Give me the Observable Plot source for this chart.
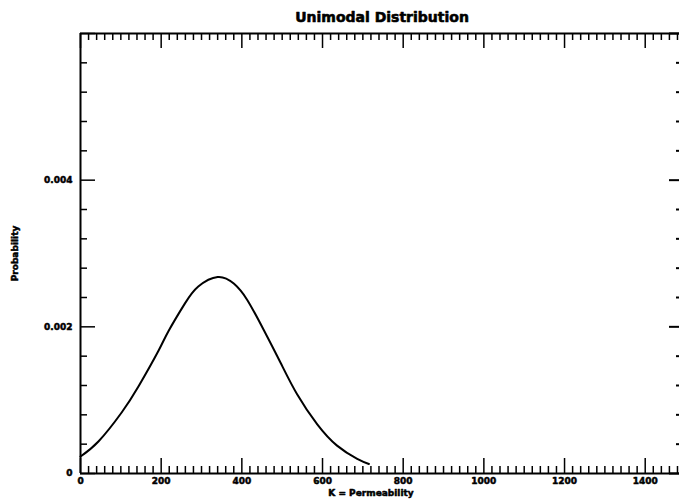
<!DOCTYPE html>
<html>
<head>
<meta charset="utf-8">
<script src="https://cdn.jsdelivr.net/npm/d3@7"></script>
<script src="https://cdn.jsdelivr.net/npm/@observablehq/plot@0.6"></script>
<style>
  html, body { margin: 0; padding: 0; background: #fff; }
  svg text { paint-order: stroke; }
</style>
</head>
<body>
<div id="chart"></div>
<script>
// Curve
const permeability = [0, 45, 102, 144, 193, 218, 259, 292, 340, 380, 413, 454, 496, 537, 587, 636, 686, 715];
const probability  = [0.000232, 0.000440, 0.000832, 0.00119, 0.00167, 0.00194, 0.00232, 0.00255, 0.00268, 0.00259, 0.00237, 0.00196, 0.00151, 0.00108, 0.00067, 0.00038, 0.0002, 0.00013];

const xMajorTicks = [0, 200, 400, 600, 800, 1000, 1200, 1400];
const xTickLabels = ["0", "200", "400", "600", "800", "1000", "1200", "1400"];
const yMajorTicks = [0, 0.002, 0.004, 0.006];
const yTickLabels = ["0", "0.002", "0.004", ""];
const xMinorStep = 20;
const yMinorStep = 0.0004;

const title = "Unimodal Distribution";
const xTitle = "K = Permeability";
const yTitle = "Probability";

const data = permeability.map((k, i) => ({k, p: probability[i]}));

const W = 679, H = 504;
const mL = 80, mR = 0, mT = 33, mB = 31;
const fw = W - mL - mR, fh = H - mT - mB;
const xMax = 1485, yMax = 0.006;

const xMinor = d3.range(0, xMax, xMinorStep).filter(v => !xMajorTicks.includes(v));
const yMinor = d3.range(1, 15).map(i => +(i * yMinorStep).toFixed(4)).filter(v => !yMajorTicks.some(m => Math.abs(m - v) < 1e-9));

const major = 15, minor = 7;
const font = {fontFamily: "DejaVu Sans", fontWeight: "bold", stroke: "black", strokeWidth: 0.5, fill: "black"};

const chart = Plot.plot({
  width: W, height: H,
  marginLeft: mL, marginRight: mR, marginTop: mT, marginBottom: mB,
  style: {fontFamily: "DejaVu Sans", background: "white", color: "black"},
  x: {domain: [0, xMax], axis: null},
  y: {domain: [0, yMax], axis: null},
  marks: [
    // frame lines
    Plot.ruleX([0], {stroke: "black", strokeWidth: 2}),
    Plot.ruleY([0, yMax], {stroke: "black", strokeWidth: 2}),
    // bottom ticks
    Plot.ruleX(xMajorTicks, {stroke: "black", strokeWidth: 1.5, insetTop: fh - major}),
    Plot.ruleX(xMinor, {stroke: "black", strokeWidth: 1.5, insetTop: fh - minor}),
    // top ticks
    Plot.ruleX(xMajorTicks, {stroke: "black", strokeWidth: 1.5, insetBottom: fh - major}),
    Plot.ruleX(xMinor, {stroke: "black", strokeWidth: 1.5, insetBottom: fh - minor}),
    // left ticks
    Plot.ruleY(yMajorTicks, {stroke: "black", strokeWidth: 1.5, insetRight: fw - major}),
    Plot.ruleY(yMinor, {stroke: "black", strokeWidth: 1.5, insetRight: fw - minor}),
    // right ticks
    Plot.ruleY(yMajorTicks, {stroke: "black", strokeWidth: 2, insetLeft: fw - 10}),
    Plot.ruleY(yMinor, {stroke: "black", strokeWidth: 2, insetLeft: fw - 3}),
    // tick labels
    Plot.text(xMajorTicks, {x: d => d, y: 0, text: (d, i) => xTickLabels[i], dy: 8, fontSize: 9, ...font}),
    Plot.text(yMajorTicks, {x: 0, y: d => d, text: (d, i) => yTickLabels[i], dx: -8, textAnchor: "end", fontSize: 9, ...font}),
    // curve
    Plot.line(data, {x: "k", y: "p", curve: "natural", stroke: "black", strokeWidth: 2}),
    // titles
    Plot.text([title], {frameAnchor: "top", lineAnchor: "middle", dy: -16, dx: 2, fontSize: 14, ...font, strokeWidth: 0.6}),
    Plot.text([xTitle], {frameAnchor: "bottom", lineAnchor: "middle", dy: 20, dx: -9, fontSize: 9, ...font}),
    Plot.text([yTitle], {frameAnchor: "left", textAnchor: "middle", lineAnchor: "middle", dx: -65, rotate: -90, fontSize: 9, ...font})
  ]
});
document.getElementById("chart").appendChild(chart);
</script>
</body>
</html>
